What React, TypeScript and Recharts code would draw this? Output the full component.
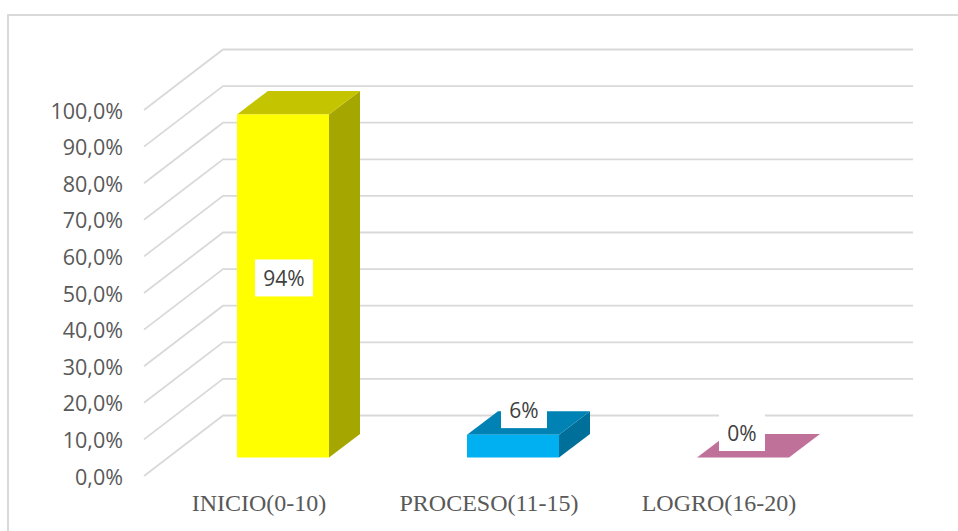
import React from "react";
import { BarChart, Bar, XAxis, YAxis, CartesianGrid, LabelList } from "recharts";

const categories = ["INICIO(0-10)", "PROCESO(11-15)", "LOGRO(16-20)"];
const shares = [0.9375, 0.0625, 0];
const labels = ["94%", "6%", "0%"];
const yTicks = [0, 0.1, 0.2, 0.3, 0.4, 0.5, 0.6, 0.7, 0.8, 0.9, 1];
const frontColors = ["#FFFF00", "#00B0F0", "#C0719A"];
const topColors = ["#C4C400", "#0082B4", "#C0719A"];
const sideColors = ["#A6A600", "#006F9A", "#A05A80"];

// 3D projection of the box
const WALL_DX = 79;
const WALL_DY = -60.5;
const BAR_DX = 24;
const BAR_DY = -18.5;
const BOX_DX = 31;
const BOX_DY = -23.5;
const labelNudge = [
  { dx: 1, dy: -8 },
  { dx: 11, dy: -25 },
  { dx: -1, dy: -25 },
];

const rows = categories.map((name, i) => ({ name, share: shares[i], label: labels[i] }));

function GridLine(props: any) {
  const { x1, x2, y1 } = props;
  return (
    <path
      d={`M${x1},${y1} L${x1 + WALL_DX},${y1 + WALL_DY} L${x2 + WALL_DX},${y1 + WALL_DY}`}
      fill="none"
      stroke="#D9D9D9"
      strokeWidth={1.8}
    />
  );
}

function Box(props: any) {
  const { x, y, width, height, index } = props;
  const l = x + BAR_DX;
  const r = l + width;
  const t = y + BAR_DY;
  const b = t + height;
  return (
    <g>
      {height > 0 && (
        <polygon
          points={`${r},${t} ${r + BOX_DX},${t + BOX_DY} ${r + BOX_DX},${b + BOX_DY} ${r},${b}`}
          fill={sideColors[index]}
        />
      )}
      <polygon
        points={`${l},${t} ${l + BOX_DX},${t + BOX_DY} ${r + BOX_DX},${t + BOX_DY} ${r},${t}`}
        fill={topColors[index]}
      />
      {height > 0 && <rect x={l} y={t} width={width} height={height} fill={frontColors[index]} />}
    </g>
  );
}

function BoxLabel(props: any) {
  const { x, y, width, height, index } = props;
  const text = labels[index];
  const n = labelNudge[index];
  const cx = x + BAR_DX + width / 2 + n.dx;
  const cy = index === 0 ? y + BAR_DY + height / 2 + n.dy : y + BAR_DY + n.dy;
  const w = text.length > 2 ? 58 : 46;
  return (
    <g>
      <rect x={cx - w / 2} y={cy - 18.5} width={w} height={37} fill="#FFFFFF" />
      <text
        x={cx}
        y={cy}
        textAnchor="middle"
        dominantBaseline="central"
        fontFamily="'Open Sans', sans-serif"
        fontSize={21}
        fill="#404040"
      >
        {text}
      </text>
    </g>
  );
}

export default function App() {
  return (
    <div style={{ position: "absolute", left: 0, top: 0, width: 958, height: 531, background: "#FFFFFF", overflow: "hidden" }}>
      <div
        style={{
          position: "absolute",
          left: 7,
          top: 14,
          width: 951,
          height: 517,
          borderLeft: "2px solid #D9D9D9",
          borderTop: "2px solid #D9D9D9",
          boxSizing: "border-box",
        }}
      />
      <div style={{ position: "absolute", left: 0, top: 0 }}>
        <BarChart
          width={958}
          height={531}
          data={rows}
          margin={{ left: 8, top: 110, right: 124, bottom: 0 }}
          barCategoryGap={0}
        >
          <CartesianGrid vertical={false} horizontal={(p: any) => <GridLine key={p.key ?? p.y1} {...p} />} />
          <XAxis
            dataKey="name"
            axisLine={false}
            tickLine={false}
            height={55}
            interval={0}
            tickMargin={12}
            tick={{ fontFamily: "'Liberation Serif', serif", fontSize: 24, fill: "#595959" }}
          />
          <YAxis
            width={136}
            domain={[0, 1]}
            ticks={yTicks}
            interval={0}
            axisLine={false}
            tickLine={false}
            tickMargin={15}
            tickFormatter={(v: number) => `${(v * 100).toFixed(1).replace(".", ",")}%`}
            tick={{ fontFamily: "'Open Sans', sans-serif", fontSize: 21.5, fill: "#595959", dy: 1 }}
          />
          <Bar dataKey="share" barSize={92} isAnimationActive={false} shape={<Box />}>
            <LabelList dataKey="label" content={<BoxLabel />} />
          </Bar>
        </BarChart>
      </div>
    </div>
  );
}
